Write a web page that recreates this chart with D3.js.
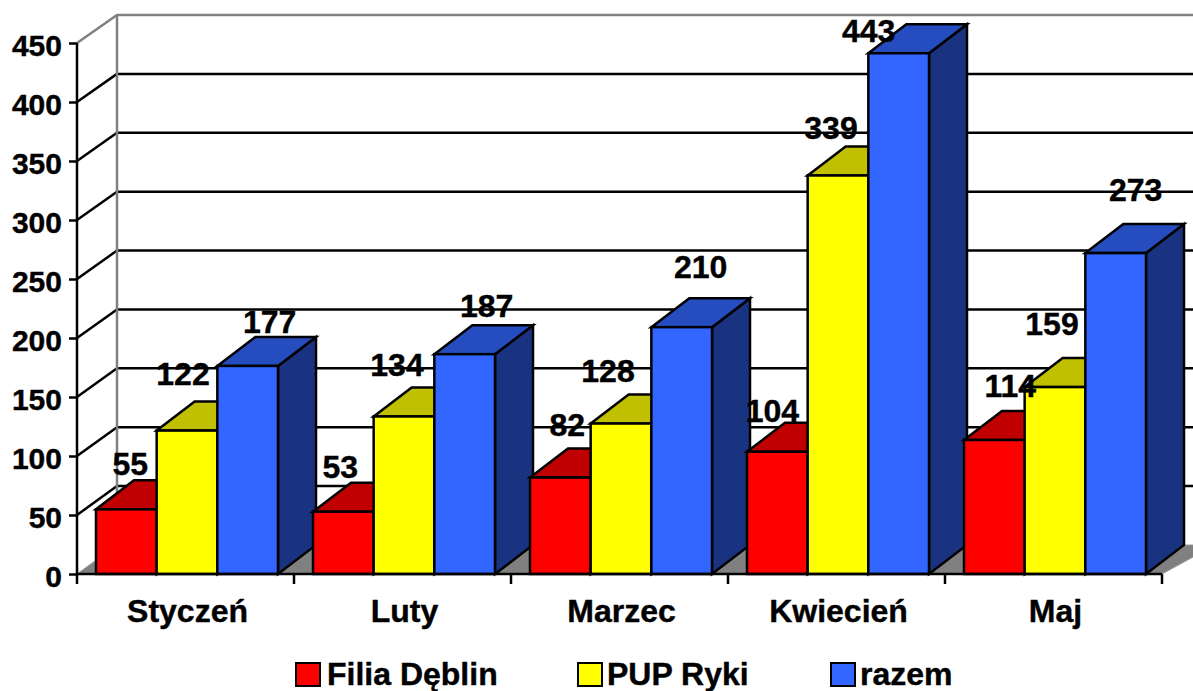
<!DOCTYPE html>
<html lang="pl">
<head>
   <meta charset="UTF-8">
   <title>Filia Dęblin / PUP Ryki</title>
   <script src="https://cdn.jsdelivr.net/npm/d3@7"></script>
   <style>
      html, body { margin: 0; padding: 0; background: #fff; overflow: hidden; }
      text { font-family: "Liberation Sans", Arial, sans-serif; font-weight: bold; fill: #000; stroke: #000; stroke-width: 0.4; }
      .axis.y-axis text { font-size: 30px; }
      .axis.x-axis text { font-size: 32px; }
      .axis .domain, .axis .tick line { stroke: #000; stroke-width: 2.5; }
   </style>
</head>
<body>
   <svg id="chart" width="1193" height="691"></svg>
   <script>
      const categories = ['Styczeń', 'Luty', 'Marzec', 'Kwiecień', 'Maj']
      const seriesNames = ['Filia Dęblin', 'PUP Ryki', 'razem']
      const filia = [55, 53, 82, 104, 114]
      const pup = [122, 134, 128, 339, 159]
      const razem = [177, 187, 210, 443, 273]
      const yTicks = [0, 50, 100, 150, 200, 250, 300, 350, 400, 450]

      const seriesValues = [filia, pup, razem]

      const front = ['#FF0000', '#FFFF00', '#3366FF']
      const topFace = ['#C00000', '#C0C000', '#264DBF']
      const sideFace = ['#990000', '#999900', '#1A3380']

      // hand placed labels in the original, offset from the bar centre / top
      const labelNudge = [
         [[4, -46], [-4, -57], [22, -44]],
         [[-3, -45], [-7, -51], [22, -48]],
         [[7, -53], [-13, -52], [19, -60]],
         [[-5, -41], [-7, -47], [-30, -21]],
         [[16, -54], [-3, -63], [20, -62]]
      ]

      const svg = d3.select('#chart')

      // scales
      const x = d3.scaleBand().domain(categories).range([77, 1162])
      const xInner = d3.scaleBand().domain(d3.range(3)).range([19, 201])
      const y = d3.scaleLinear().domain([0, 450]).range([574, 43])
      const yBar = d3.scaleLinear().domain([0, 450]).range([574, 45])
      const yBack = d3.scaleLinear().domain([0, 450]).range([545, 15])

      const wallDx = 40
      const barDx = 38
      const barDy = -29
      const pts = a => a.map(p => p.join(',')).join(' ')

      // floor
      svg.append('polygon')
         .attr('points', pts([[77, y(0)], [77 + wallDx, yBack(0)], [1215, yBack(0)], [1162, y(0)]]))
         .attr('fill', '#808080')
         .attr('stroke', '#999')
         .attr('stroke-width', 1)

      // walls
      const wallLines = svg.append('g')
      yTicks.slice(1, -1).forEach(t => {
         wallLines.append('line')
            .attr('x1', 77).attr('y1', y(t))
            .attr('x2', 77 + wallDx).attr('y2', yBack(t))
            .attr('stroke', '#000').attr('stroke-width', 2.5)
         wallLines.append('line')
            .attr('x1', 77 + wallDx).attr('y1', yBack(t))
            .attr('x2', 1193).attr('y2', yBack(t))
            .attr('stroke', '#000').attr('stroke-width', 2.5)
      })
      svg.append('path')
         .attr('d', `M77,${y(450)}L${77 + wallDx},${yBack(450)}H1193M${77 + wallDx},${yBack(450)}V${yBack(0)}`)
         .attr('fill', 'none')
         .attr('stroke', '#808080')
         .attr('stroke-width', 2.5)

      // bars, left to right so that the next group covers the side of the last
      categories.forEach((cat, i) => {
         const g = svg.append('g')
         seriesValues.forEach((values, s) => {
            const x0 = x(cat) + xInner(s)
            const x1 = x0 + xInner.bandwidth()
            const yTop = yBar(values[i])
            const yBase = yBar(0)

            g.append('polygon')
               .attr('points', pts([[x1, yTop], [x1 + barDx, yTop + barDy], [x1 + barDx, yBase + barDy], [x1, yBase]]))
               .attr('fill', sideFace[s]).attr('stroke', '#000').attr('stroke-width', 2.5)
            g.append('polygon')
               .attr('points', pts([[x0, yTop], [x0 + barDx, yTop + barDy], [x1 + barDx, yTop + barDy], [x1, yTop]]))
               .attr('fill', topFace[s]).attr('stroke', '#000').attr('stroke-width', 2.5)
            g.append('rect')
               .attr('x', x0).attr('y', yTop)
               .attr('width', x1 - x0).attr('height', yBase - yTop)
               .attr('fill', front[s]).attr('stroke', '#000').attr('stroke-width', 2.5)
         })
      })

      // axes
      const yAxis = d3.axisLeft(y).tickValues(yTicks).tickSize(8).tickPadding(7).tickFormat(d3.format('d'))
      svg.append('g').attr('class', 'axis y-axis')
         .attr('transform', 'translate(77,0)')
         .call(yAxis)
         .call(a => a.selectAll('.domain').attr('d', `M0,${y(450)}V${y(0)}`))
         .call(a => a.selectAll('text').attr('dy', '0.42em'))

      const xAxis = d3.axisBottom(x).tickSize(0).tickPadding(25)
      svg.append('g').attr('class', 'axis x-axis')
         .attr('transform', `translate(2,${y(0)})`)
         .call(xAxis)
         .call(a => a.selectAll('.domain').remove())

      svg.append('g')
         .selectAll('line')
         .data(d3.range(categories.length + 1))
         .join('line')
         .attr('x1', d => x.range()[0] + d * x.step())
         .attr('x2', d => x.range()[0] + d * x.step())
         .attr('y1', y(0)).attr('y2', y(0) + 10)
         .attr('stroke', '#000').attr('stroke-width', 2.5)
      svg.append('line')
         .attr('x1', 77).attr('x2', 1162)
         .attr('y1', y(0)).attr('y2', y(0))
         .attr('stroke', '#000').attr('stroke-width', 2.5)

      // data labels
      categories.forEach((cat, i) => {
         seriesValues.forEach((values, s) => {
            svg.append('text')
               .attr('x', x(cat) + xInner(s) + xInner.bandwidth() / 2 + labelNudge[i][s][0])
               .attr('y', y(values[i]) + labelNudge[i][s][1])
               .attr('dy', '0.36em')
               .attr('text-anchor', 'middle')
               .attr('font-size', 32)
               .text(values[i])
         })
      })

      // legend
      const legendX = [296, 578, 831]
      const legendTextX = [327, 607, 860]
      const legend = svg.append('g')
      seriesNames.forEach((name, s) => {
         legend.append('rect')
            .attr('x', legendX[s]).attr('y', 663)
            .attr('width', 24).attr('height', 23)
            .attr('fill', front[s]).attr('stroke', '#000').attr('stroke-width', 2)
         legend.append('text')
            .attr('x', legendTextX[s]).attr('y', 685)
            .attr('font-size', 32)
            .text(name)
      })
   </script>
</body>
</html>
